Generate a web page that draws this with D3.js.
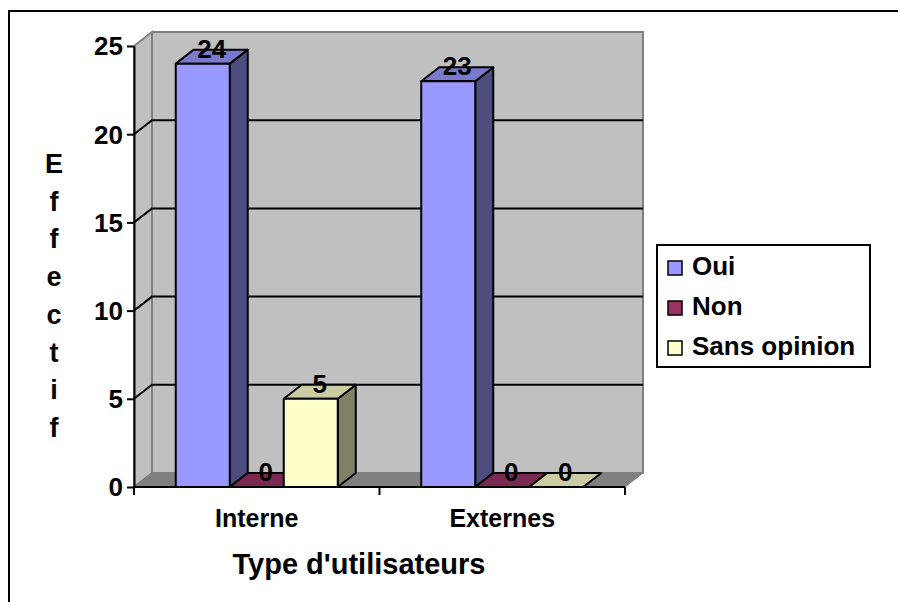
<!DOCTYPE html>
<html>
<head>
<meta charset="utf-8">
<script src="https://cdn.jsdelivr.net/npm/d3@7"></script>
<style>
  html, body { margin: 0; padding: 0; background: #fff; }
  svg { display: block; }
  text { font-family: "Liberation Sans", Arial, sans-serif; font-weight: bold; fill: #000; }
</style>
</head>
<body>
<div id="chart"></div>
<script>
// data
var categories = ["Interne", "Externes"];
var seriesNames = ["Oui", "Non", "Sans opinion"];
var oui = [24, 23];
var non = [0, 0];
var sansOpinion = [5, 0];
var yTicks = [0, 5, 10, 15, 20, 25];
var yTitle = "Effectif";
var xTitle = "Type d'utilisateurs";

var seriesValues = [oui, non, sansOpinion];
// front / top / side shades per series
var colors = [
  { front: "#9999FF", top: "#7A7ACC", side: "#4D4D80" },
  { front: "#993366", top: "#7A2952", side: "#4D1933" },
  { front: "#FFFFCC", top: "#CCCCA3", side: "#808066" }
];

var W = 898, H = 602;
var dx = 18, dy = -14; // depth offset of the 3d box

var svg = d3.select("#chart").append("svg").attr("width", W).attr("height", H);

// outer frame, runs off the right and bottom edge
svg.append("rect").attr("x", 9).attr("y", 11).attr("width", 1000).attr("height", 1000)
  .attr("fill", "none").attr("stroke", "#000").attr("stroke-width", 2);

var y = d3.scaleLinear().domain([0, 25]).range([487, 46]);
var xCat = d3.scaleBand().domain(categories).range([134, 625]).paddingInner(0.34).paddingOuter(0.17);
var xSer = d3.scaleBand().domain(seriesNames).range([0, xCat.bandwidth()]);

var x0 = 134, x1 = 625, yTop = y(25), yBot = y(0);

// walls and floor
svg.append("rect").attr("x", x0 + dx).attr("y", yTop + dy)
  .attr("width", x1 - x0).attr("height", yBot - yTop)
  .attr("fill", "#C0C0C0").attr("stroke", "#808080").attr("stroke-width", 2);
svg.append("polygon")
  .attr("points", [[x0, yTop], [x0 + dx, yTop + dy], [x0 + dx, yBot + dy], [x0, yBot]].join(" "))
  .attr("fill", "#C0C0C0").attr("stroke", "#808080").attr("stroke-width", 2);

// gridlines across side wall and back wall
svg.append("g").selectAll("polyline")
  .data(yTicks.filter(function (t) { return t > 0 && t < 25; }))
  .enter().append("polyline")
  .attr("points", function (t) {
    return [[x0, y(t)], [x0 + dx, y(t) + dy], [x1 + dx, y(t) + dy]].join(" ");
  })
  .attr("fill", "none").attr("stroke", "#000").attr("stroke-width", 2);

svg.append("polygon")
  .attr("points", [[x0, yBot], [x0 + dx, yBot + dy], [x1 + dx, yBot + dy], [x1, yBot]].join(" "))
  .attr("fill", "#808080").attr("stroke", "#808080").attr("stroke-width", 1);

// bars
var bars = [];
categories.forEach(function (c, i) {
  seriesNames.forEach(function (s, j) {
    bars.push({ cat: c, ser: s, j: j, v: seriesValues[j][i] });
  });
});

var gBars = svg.append("g");
bars.forEach(function (d) {
  var bx = xCat(d.cat) + xSer(d.ser), bw = xSer.bandwidth();
  var ty = y(d.v), by = y(0);
  var col = colors[d.j];
  var g = gBars.append("g").attr("stroke", "#000").attr("stroke-width", 2).attr("stroke-linejoin", "round");
  if (d.v > 0) {
    g.append("polygon")
      .attr("points", [[bx + bw, ty], [bx + bw + dx, ty + dy], [bx + bw + dx, by + dy], [bx + bw, by]].join(" "))
      .attr("fill", col.side);
  }
  g.append("polygon")
    .attr("points", [[bx, ty], [bx + dx, ty + dy], [bx + bw + dx, ty + dy], [bx + bw, ty]].join(" "))
    .attr("fill", col.top);
  if (d.v > 0) {
    g.append("rect").attr("x", bx).attr("y", ty).attr("width", bw).attr("height", by - ty)
      .attr("fill", col.front);
  }
});

// value labels
svg.append("g").selectAll("text").data(bars).enter().append("text")
  .attr("x", function (d) { return xCat(d.cat) + xSer(d.ser) + xSer.bandwidth() / 2 + dx / 2; })
  .attr("y", function (d) { return y(d.v) - 6; })
  .attr("text-anchor", "middle")
  .attr("font-size", 26)
  .text(function (d) { return d.v; });

// y axis
var yAxis = svg.append("g").attr("transform", "translate(" + x0 + ",0)")
  .call(d3.axisLeft(y).tickValues(yTicks).tickSize(7).tickPadding(4).tickSizeOuter(0));
yAxis.select(".domain").attr("stroke", "#000").attr("stroke-width", 2);
yAxis.selectAll(".tick line").attr("stroke", "#000").attr("stroke-width", 2);
yAxis.selectAll(".tick text").attr("font-size", 26).attr("font-family", null).attr("dy", "0.34em");

// x axis: line, boundary ticks, category labels
var bounds = [x0].concat(categories.map(function (c) {
  return xCat(c) + xCat.bandwidth() + xCat.step() * xCat.paddingInner() / 2;
}));
svg.append("line").attr("x1", x0).attr("x2", x1).attr("y1", yBot).attr("y2", yBot)
  .attr("stroke", "#000").attr("stroke-width", 2);
svg.append("g").selectAll("line").data(bounds).enter().append("line")
  .attr("x1", function (d) { return d; }).attr("x2", function (d) { return d; })
  .attr("y1", yBot).attr("y2", yBot + 8)
  .attr("stroke", "#000").attr("stroke-width", 2);
svg.append("g").selectAll("text").data(categories).enter().append("text")
  .attr("x", function (c) { return xCat(c) + xCat.bandwidth() / 2; })
  .attr("y", 527)
  .attr("text-anchor", "middle")
  .attr("font-size", 25)
  .text(function (c) { return c; });

// axis titles
svg.append("text").attr("x", 359).attr("y", 574).attr("text-anchor", "middle")
  .attr("font-size", 29).text(xTitle);
svg.append("g").selectAll("text").data(yTitle.split("")).enter().append("text")
  .attr("x", 54).attr("y", function (d, i) { return 173 + i * 37.7; })
  .attr("text-anchor", "middle").attr("font-size", 27)
  .text(function (d) { return d; });

// legend
var legend = svg.append("g");
legend.append("rect").attr("x", 657).attr("y", 245).attr("width", 213).attr("height", 122)
  .attr("fill", "#fff").attr("stroke", "#000").attr("stroke-width", 2);
var item = legend.selectAll("g.item").data(seriesNames).enter().append("g").attr("class", "item")
  .attr("transform", function (d, i) { return "translate(668," + (261 + i * 40) + ")"; });
item.append("rect").attr("width", 14).attr("height", 14)
  .attr("fill", function (d, i) { return colors[i].front; })
  .attr("stroke", "#000").attr("stroke-width", 1.5);
item.append("text").attr("x", 24).attr("y", 14).attr("font-size", 26)
  .text(function (d) { return d; });
</script>
</body>
</html>
